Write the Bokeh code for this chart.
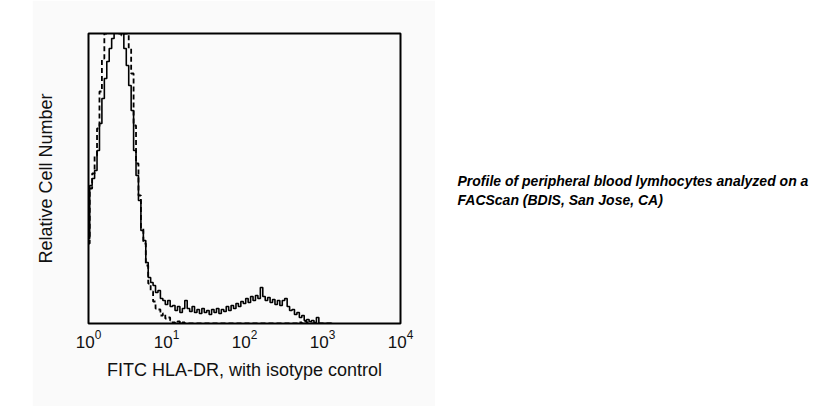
from bokeh.plotting import figure
from bokeh.models import Range1d, Label, FixedTicker, Spacer
from bokeh.layouts import row
from bokeh.embed import file_html
from bokeh.resources import INLINE

# FACScan channels (1024 channels over 4 decades); one entry every 8 channels
channels = list(range(0, 8 * 101, 8))

# Relative cell number per channel, HLA-DR (solid)
hla_dr = [85, 138, 145, 153, 173, 200, 225, 245, 262, 275,
          285, 300, 300, 292, 300, 275, 258, 238, 213, 173,
          148, 123, 93, 83, 61, 46, 41, 38, 31, 33,
          25, 23, 19, 23, 17, 18, 13, 17, 11, 15,
          23, 15, 12, 17, 11, 14, 10, 15, 11, 13,
          9, 14, 11, 15, 10, 14, 12, 17, 13, 18,
          15, 20, 17, 22, 20, 25, 21, 27, 23, 28,
          25, 36, 27, 23, 26, 21, 24, 19, 23, 18,
          23, 25, 17, 13, 14, 9, 11, 6, 8, 3,
          4, 2, 3, 1, 6, 0, 0, 0, 0, 0, 0]

# Isotype control (dashed)
isotype = [80, 135, 150, 168, 195, 232, 265, 290, 300, 298,
           300, 295, 290, 290, 288, 290, 290, 275, 250, 198,
           160, 128, 95, 80, 58, 40, 32, 22, 15, 14,
           8, 10, 5, 6, 3, 1, 0, 2, 0, 1,
           0, 0, 0, 0, 0, 0, 0, 0, 0, 0,
           0, 0, 0, 0, 0, 0, 0, 0, 0, 0,
           0, 0, 0, 0, 0, 0, 0, 0, 0, 0,
           0, 0, 0, 0, 0, 0, 0, 0, 0, 0,
           0, 0, 0, 0, 0, 0, 0, 1, 0, 2,
           1, 0, 0, 0, 0, 0, 0, 0, 0, 0, 0]

x_ticks = [1, 10, 100, 1000, 10000]
x_title = "FITC HLA-DR, with isotype control"
y_title = "Relative Cell Number"
caption = ["Profile of peripheral blood lymhocytes analyzed on a",
           "FACScan (BDIS, San Jose, CA)"]

fluor = [10 ** (c / 256) for c in channels]

BG = "#fafafa"
FONT = "Liberation Sans"
H = 406

p = figure(frame_width=312, frame_height=290, x_axis_type="log",
           x_range=Range1d(1, 10000), y_range=Range1d(0, 290),
           output_backend="svg", toolbar_location=None,
           min_border_left=56, min_border_top=33, min_border_right=35,
           min_border_bottom=H - 33 - 290,
           background_fill_color=BG, border_fill_color=BG,
           outline_line_color="black", outline_line_width=2)

p.step(fluor, isotype, mode="center", line_color="black", line_width=1.8,
       line_dash="5 3")
p.step(fluor, hla_dr, mode="center", line_color="black", line_width=1.6)

p.grid.visible = False
p.xaxis.ticker = FixedTicker(ticks=x_ticks)
p.yaxis.ticker = FixedTicker(ticks=[])
for ax in (p.xaxis, p.yaxis):
    ax.axis_line_color = None
    ax.major_tick_line_color = None
    ax.minor_tick_line_color = None
    ax.major_tick_out = 0
    ax.minor_tick_out = 0
    ax.major_label_text_font = FONT
    ax.major_label_text_font_size = "17px"
    ax.major_label_text_color = "#111111"
    ax.axis_label_text_font = FONT
    ax.axis_label_text_font_size = "18px"
    ax.axis_label_text_font_style = "normal"
    ax.axis_label_text_color = "#111111"

p.xaxis.axis_label = x_title
p.yaxis.axis_label = y_title
p.xaxis.major_label_standoff = 6
p.xaxis.axis_label_standoff = 9
p.yaxis.axis_label_standoff = 33

c = figure(frame_width=394, frame_height=H, x_range=Range1d(0, 394),
           y_range=Range1d(0, H), output_backend="svg",
           toolbar_location=None, x_axis_location=None, y_axis_location=None,
           min_border=0, outline_line_color=None,
           background_fill_color="white", border_fill_color="white")
c.grid.visible = False
for i, line in enumerate(caption):
    c.add_layout(Label(x=22, y=259 - 19 * i, text=line, text_font=FONT,
                       text_font_size="14px", text_font_style="bold italic",
                       text_color="black", text_baseline="middle",
                       text_align="left"))

layout = row(Spacer(width=32, height=H), p, c)
open("out.html", "w").write(file_html(layout, INLINE))
